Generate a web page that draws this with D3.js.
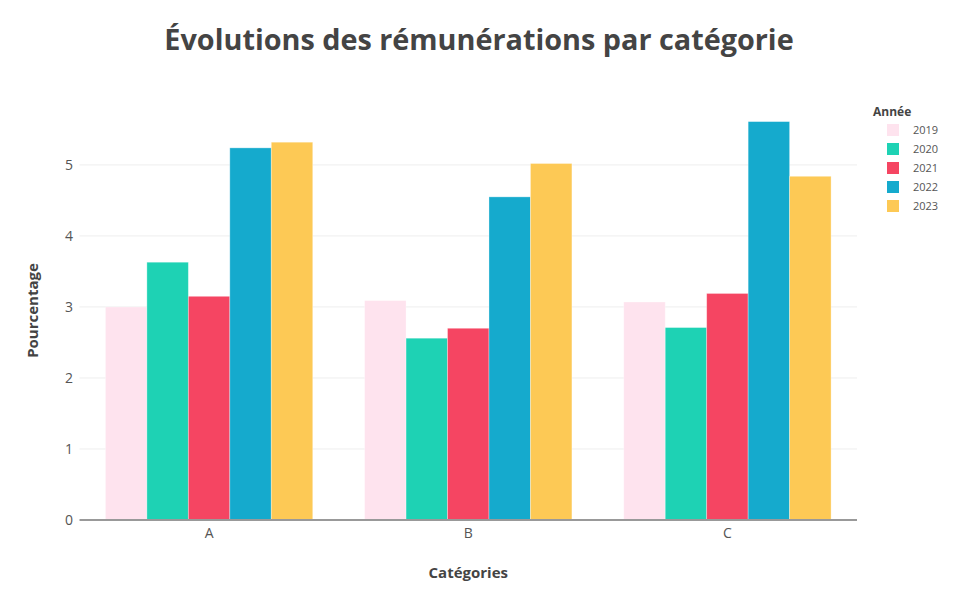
<!DOCTYPE html>
<html><head><meta charset="utf-8">
<script src="https://cdn.jsdelivr.net/npm/d3@7"></script>
<style>body{margin:0;background:#fff}svg{display:block}</style>
</head><body>
<svg id="chart" width="956" height="600"></svg>
<script>
const categories = ["A", "B", "C"];
const years = ["2019", "2020", "2021", "2022", "2023"];
const v2019 = [3.00, 3.09, 3.07];
const v2020 = [3.63, 2.56, 2.71];
const v2021 = [3.15, 2.70, 3.19];
const v2022 = [5.24, 4.55, 5.61];
const v2023 = [5.32, 5.02, 4.84];
const yTicks = [0, 1, 2, 3, 4, 5];
const colors = ["#fee3ee", "#1ed2b4", "#f54562", "#15aacd", "#fdc955"];
const series = [v2019, v2020, v2021, v2022, v2023];

const font = "'Century Gothic', 'Open Sans', sans-serif";
const svg = d3.select("#chart");
const m = {l: 79.5, r: 857, t: 101, b: 520};

const x = d3.scaleBand().domain(categories).range([m.l, m.r]).paddingInner(0.2).paddingOuter(0.1);
const xs = d3.scaleBand().domain(years).range([0, x.bandwidth()]);
const y = d3.scaleLinear().domain([0, 5.9]).range([m.b, m.t]);

// grid
svg.append("g").selectAll("line").data(yTicks.slice(1)).join("line")
  .attr("x1", m.l).attr("x2", m.r)
  .attr("y1", d => y(d)).attr("y2", d => y(d))
  .attr("stroke", "#eee").attr("stroke-width", 1);

// y tick labels
svg.append("g").selectAll("text").data(yTicks).join("text")
  .attr("x", 73).attr("y", d => y(d)).attr("dy", "0.35em")
  .attr("text-anchor", "end").attr("font-family", font).attr("font-size", 14)
  .attr("fill", "#555").text(d => d);

// bars
const g = svg.append("g");
series.forEach((vals, i) => {
  g.selectAll(null).data(vals).join("rect")
    .attr("x", (d, j) => x(categories[j]) + xs(years[i]))
    .attr("width", xs.bandwidth())
    .attr("y", d => y(d))
    .attr("height", d => y(0) - y(d))
    .attr("fill", colors[i])
    .attr("stroke", "rgba(255,255,255,0.4)").attr("stroke-width", 0.8);
});

// zero line
svg.append("line").attr("x1", m.l).attr("x2", m.r).attr("y1", y(0)).attr("y2", y(0))
  .attr("stroke", "#999").attr("stroke-width", 2);

// x tick labels
svg.append("g").selectAll("text").data(categories).join("text")
  .attr("x", d => x(d) + x.bandwidth() / 2).attr("y", 538)
  .attr("text-anchor", "middle").attr("font-family", font).attr("font-size", 14)
  .attr("fill", "#555").text(d => d);

// axis titles
svg.append("text").attr("x", (m.l + m.r) / 2).attr("y", 578)
  .attr("text-anchor", "middle").attr("font-family", font).attr("font-size", 15)
  .attr("font-weight", "bold").attr("fill", "#444").text("Catégories");
svg.append("text").attr("transform", `translate(38,${(m.t + m.b) / 2}) rotate(-90)`)
  .attr("text-anchor", "middle").attr("font-family", font).attr("font-size", 15)
  .attr("font-weight", "bold").attr("fill", "#444").text("Pourcentage");

// title
svg.append("text").attr("x", 479).attr("y", 50)
  .attr("text-anchor", "middle").attr("font-family", font).attr("font-size", 28.8)
  .attr("font-weight", "bold").attr("fill", "#444").text("Évolutions des rémunérations par catégorie");

// legend
const lg = svg.append("g").attr("transform", "translate(873,0)");
lg.append("text").attr("x", 0).attr("y", 116).attr("font-family", font)
  .attr("font-size", 12).attr("font-weight", "bold").attr("fill", "#444").text("Année");
years.forEach((yr, i) => {
  const cy = 130 + i * 19;
  lg.append("rect").attr("x", 14).attr("y", cy - 6).attr("width", 12).attr("height", 12)
    .attr("fill", colors[i]);
  lg.append("text").attr("x", 40).attr("y", cy).attr("dy", "0.35em")
    .attr("font-family", font).attr("font-size", 11).attr("fill", "#555").text(yr);
});
</script>
</body></html>
